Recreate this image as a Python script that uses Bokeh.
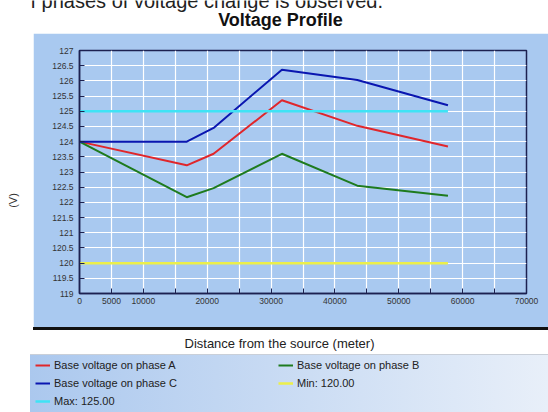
import math
from bokeh.plotting import figure
from bokeh.layouts import column, row
from bokeh.models import (Range1d, FixedTicker, Label, Legend, LegendItem, ColumnDataSource)
from bokeh.embed import file_html
from bokeh.resources import INLINE

# ---------------- data ----------------
dist_m = [0, 16800, 21000, 31700, 43500, 57700]
phase_a = [124.0, 123.22, 123.60, 125.36, 124.52, 123.84]
phase_b = [124.0, 122.17, 122.47, 123.60, 122.55, 122.22]
phase_c = [124.0, 124.00, 124.45, 126.37, 126.03, 125.20]
limit_x = [0, 57700]
min_v = [120.0, 120.0]
max_v = [125.0, 125.0]

x_ticks = [0, 5000, 10000, 15000, 20000, 25000, 30000, 35000, 40000,
           45000, 50000, 55000, 60000, 65000, 70000]
x_tick_labels = ["0", "5000", "10000", "", "20000", "", "30000", "", "40000",
                 "", "50000", "", "60000", "", "70000"]
y_ticks = [119, 119.5, 120, 120.5, 121, 121.5, 122, 122.5, 123, 123.5,
           124, 124.5, 125, 125.5, 126, 126.5, 127]
y_tick_labels = ["119", "119.5", "120", "120.5", "121", "121.5", "122", "122.5",
                 "123", "123.5", "124", "124.5", "125", "125.5", "126", "126.5", "127"]

caption_text = "f phases of voltage change is observed."
title_text = "Voltage Profile"
x_title = "Distance from the source (meter)"
y_title = "(V)"
series_names = ["Base voltage on phase A", "Base voltage on phase B",
                "Base voltage on phase C", "Min: 120.00", "Max: 125.00"]
series_colors = ["#E0262B", "#1E7B1E", "#0A16B0", "#ECEF4A", "#3FE3F5"]

# ---------------- page geometry (pixels) ----------------
W, H = 548, 412
PX0, PY0, PY1 = 33, 33, 327          # chart panel: left, top, bottom (page)
FL, FT, FR, FB = 79, 50, 526, 293    # plot frame edges (page)
FONT = "Liberation Sans"
PANEL = "#A9C9F0"
NAVY = "#1C2150"


def strip(width, height, x0, x1, y0, y1, styles=None):
    """Figure whose whole canvas is its frame, data coords = page pixels."""
    f = figure(width=width, height=height, output_backend="svg", toolbar_location=None,
               x_axis_type=None, y_axis_type=None,
               x_range=Range1d(x0, x1), y_range=Range1d(y1, y0),
               min_border_left=0, min_border_right=0, min_border_top=0, min_border_bottom=0,
               frame_align=False, styles=styles or {})
    f.border_fill_color = None
    f.background_fill_color = None
    f.outline_line_color = None
    return f


# ---- title strip (with the cut-off caption line of the source page) ----
top = strip(W, PY0, 0, W, 0, PY0)
top.add_layout(Label(x=30, y=0, text=caption_text, text_align="left",
                     text_baseline="alphabetic", text_font=FONT, text_font_size="20px",
                     text_color="#222222"))
top.add_layout(Label(x=280, y=19, text=title_text, text_align="center",
                     text_baseline="middle", text_font=FONT, text_font_size="18px",
                     text_font_style="bold", text_color="#111111"))

# ---- y-title strip ----
left = strip(PX0, PY1 - PY0, 0, PX0, PY0, PY1)
left.add_layout(Label(x=12, y=200, text=y_title, text_align="center",
                      text_baseline="middle", angle=math.pi / 2, text_font=FONT,
                      text_font_size="11px", text_color="#333333"))

# ---- main chart ----
p = figure(width=W - PX0, height=PY1 - PY0, output_backend="svg", toolbar_location=None,
           x_range=Range1d(0, 70000), y_range=Range1d(119, 127),
           min_border_left=FL - PX0, min_border_right=W - FR,
           min_border_top=FT - PY0, min_border_bottom=PY1 - FB, frame_align=False)
p.border_fill_color = PANEL
p.background_fill_color = PANEL
p.outline_line_color = NAVY
p.outline_line_width = 1.5

p.xgrid.ticker = FixedTicker(ticks=x_ticks)
p.ygrid.ticker = FixedTicker(ticks=y_ticks)
p.grid.grid_line_color = "white"
p.grid.grid_line_width = 1.2

for ax in (p.xaxis[0], p.yaxis[0]):
    ax.axis_line_color = NAVY
    ax.axis_line_width = 1.5
    ax.major_tick_line_color = NAVY
    ax.major_tick_in = 5
    ax.major_tick_out = 0
    ax.minor_tick_line_color = None
    ax.major_label_text_font = FONT
    ax.major_label_text_font_size = "8.5px"
    ax.major_label_text_color = "#333333"
p.xaxis.ticker = FixedTicker(ticks=x_ticks)
p.yaxis.ticker = FixedTicker(ticks=y_ticks)
p.xaxis.major_label_overrides = dict(zip(x_ticks, x_tick_labels))
p.yaxis.major_label_overrides = dict(zip(y_ticks, y_tick_labels))
p.xaxis.major_label_standoff = 4
p.yaxis.major_label_standoff = 6

src = ColumnDataSource(dict(x=dist_m, a=phase_a, b=phase_b, c=phase_c))
lim = ColumnDataSource(dict(x=limit_x, lo=min_v, hi=max_v))
widths = [2, 2, 2, 2.5, 2.5]
p.line("x", "a", source=src, line_color=series_colors[0], line_width=widths[0])
p.line("x", "b", source=src, line_color=series_colors[1], line_width=widths[1])
p.line("x", "c", source=src, line_color=series_colors[2], line_width=widths[2])
p.line("x", "lo", source=lim, line_color=series_colors[3], line_width=widths[3])
p.line("x", "hi", source=lim, line_color=series_colors[4], line_width=widths[4])

# ---- bottom strip: x title + legend ----
bottom_bg = ", ".join([
    f"linear-gradient(#111111, #111111) {PX0}px 0px / {W - PX0}px 3px no-repeat",
    "linear-gradient(#C9CFD8, #C9CFD8) 30px 27px / 518px 1px no-repeat",
    "linear-gradient(to right, #ABC8EE, #E8EFF9) 30px 28px / 518px 57px no-repeat",
    "#FFFFFF",
])
bot = strip(W, H - PY1, 0, W, PY1, H, styles={"background": bottom_bg})
bot.add_layout(Label(x=279, y=343, text=x_title, text_align="center",
                     text_baseline="middle", text_font=FONT, text_font_size="13px",
                     text_color="#222222"))

# legend keys: the same series, drawn outside this strip's visible range
bsrc = ColumnDataSource(dict(x=dist_m, a=phase_a, b=phase_b, c=phase_c))
blim = ColumnDataSource(dict(x=limit_x, lo=min_v, hi=max_v))
keys = [bot.line("x", "a", source=bsrc, line_color=series_colors[0], line_width=widths[0]),
        bot.line("x", "b", source=bsrc, line_color=series_colors[1], line_width=widths[1]),
        bot.line("x", "c", source=bsrc, line_color=series_colors[2], line_width=widths[2]),
        bot.line("x", "lo", source=blim, line_color=series_colors[3], line_width=widths[3]),
        bot.line("x", "hi", source=blim, line_color=series_colors[4], line_width=widths[4])]


def make_legend(idx, px, bottom_y):
    return Legend(items=[LegendItem(label=series_names[i], renderers=[keys[i]]) for i in idx],
                  location=(px, bottom_y), orientation="vertical",
                  padding=0, margin=0, spacing=4, glyph_height=14, glyph_width=15,
                  label_height=14, label_standoff=4, label_text_font=FONT,
                  label_text_font_size="11px", label_text_color="#222222",
                  background_fill_alpha=0, border_line_alpha=0)


bot.add_layout(make_legend([0, 2, 4], 35, 4), "center")
bot.add_layout(make_legend([1, 3], 278, 22), "center")

layout = column(top, row(left, p, spacing=0), bot, spacing=0)
open("out.html", "w").write(file_html(layout, INLINE))
